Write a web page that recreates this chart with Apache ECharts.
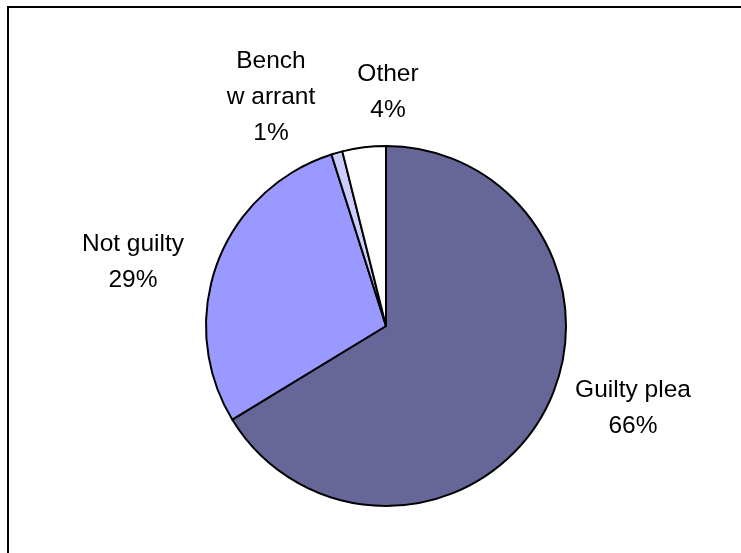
<!DOCTYPE html>
<html>
<head>
<meta charset="utf-8">
<script src="https://cdn.jsdelivr.net/npm/echarts@6/dist/echarts.min.js"></script>
<style>
  html, body { margin: 0; padding: 0; background: #fff; }
  #chart { width: 741px; height: 553px; }
</style>
</head>
<body>
<div id="chart"></div>
<script>
const categories = ['Guilty plea', 'Not guilty', 'Bench\nw arrant', 'Other'];
const shares = [66.3, 28.8, 1.0, 3.9];
const colors = ['#666699', '#9999FF', '#CCCCFF', '#FFFFFF'];
// label centres, in px
const labelPos = [[633, 408], [133, 262], [271, 97], [388, 92]];

const chart = echarts.init(document.getElementById('chart'));

chart.setOption({
  animation: false,
  graphic: [{
    type: 'rect',
    shape: { x: 8, y: 7, width: 800, height: 600 },
    style: { fill: 'none', stroke: '#000', lineWidth: 2 },
    silent: true
  }],
  series: [{
    type: 'pie',
    center: [386, 326],
    radius: 180,
    startAngle: 90,
    clockwise: true,
    data: categories.map((name, i) => ({
      name: name,
      value: shares[i],
      itemStyle: { color: colors[i] }
    })),
    itemStyle: { borderColor: '#000', borderWidth: 2 },
    label: {
      show: true,
      position: 'outside',
      formatter: p => p.name + '\n' + Math.round(p.percent) + '%',
      fontFamily: 'Liberation Sans, Arial, sans-serif',
      fontSize: 24.5,
      lineHeight: 36,
      color: '#000',
      align: 'center'
    },
    labelLine: { show: false },
    labelLayout: params => {
      const p = labelPos[params.dataIndex];
      return { x: p[0], y: p[1], align: 'center', verticalAlign: 'middle' };
    },
    emphasis: { disabled: true }
  }]
});
</script>
</body>
</html>
